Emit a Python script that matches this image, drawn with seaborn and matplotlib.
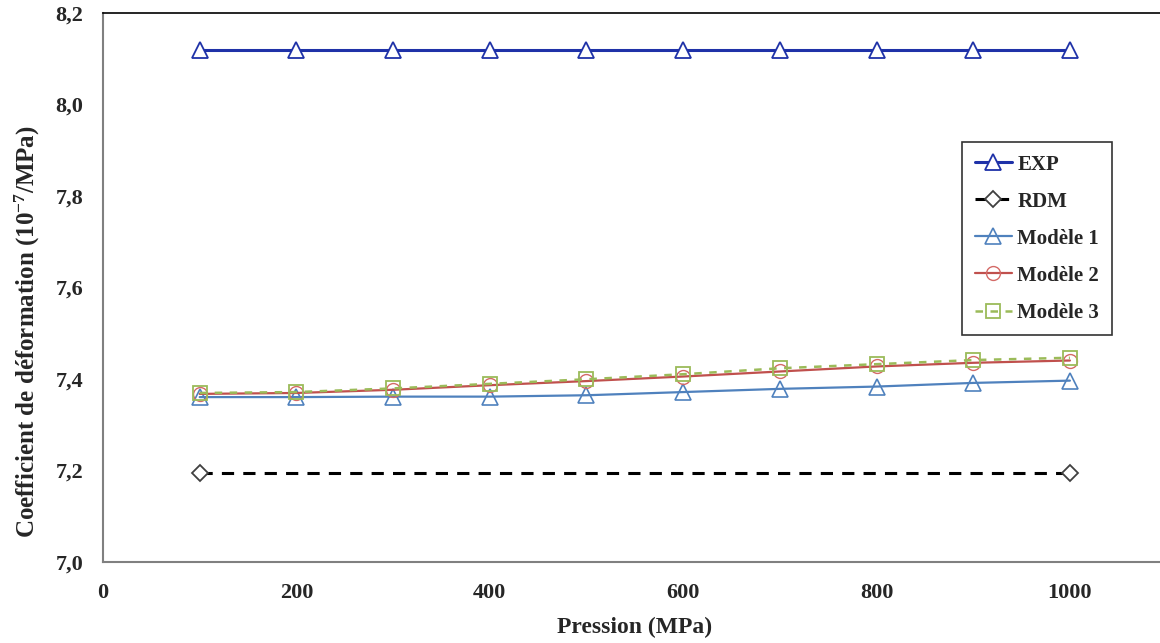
import numpy as np
import pandas as pd
import matplotlib
matplotlib.use('Agg')
import matplotlib.pyplot as plt
import seaborn as sns

# Data
pression = [100, 200, 300, 400, 500, 600, 700, 800, 900, 1000]
exp_vals = [8.12] * 10
rdm_x = [100, 1000]
rdm_vals = [7.193, 7.193]
modele1 = [7.360, 7.360, 7.361, 7.361, 7.364, 7.371, 7.378, 7.383, 7.391, 7.396]
modele2 = [7.367, 7.369, 7.376, 7.386, 7.395, 7.405, 7.416, 7.427, 7.435, 7.440]
modele3 = [7.369, 7.371, 7.379, 7.389, 7.399, 7.410, 7.423, 7.432, 7.441, 7.446]

x_ticks = [0, 200, 400, 600, 800, 1000]
y_ticks = [7.0, 7.2, 7.4, 7.6, 7.8, 8.0, 8.2]

sns.set_theme(style="white")
plt.rcParams['font.family'] = ['Liberation Serif', 'DejaVu Serif']
plt.rcParams['font.weight'] = 'bold'
plt.rcParams['mathtext.fontset'] = 'custom'
plt.rcParams['mathtext.rm'] = 'Liberation Serif:bold'
plt.rcParams['mathtext.bf'] = 'Liberation Serif:bold'
plt.rcParams['mathtext.default'] = 'bf'

fig = plt.figure(figsize=(11.6, 6.43), dpi=100)
ax = fig.add_axes([103 / 1160, 1 - 561.7 / 643, (1166.6 - 103) / 1160, (561.7 - 13) / 643])

# EXP
sns.lineplot(x=pression, y=exp_vals, ax=ax, color='#1f32a8', linewidth=2.2,
             marker='^', markersize=11, markerfacecolor='white',
             markeredgecolor='#1f32a8', markeredgewidth=1.3, label='EXP')
# RDM
sns.lineplot(x=rdm_x, y=rdm_vals, ax=ax, color='black', linewidth=2.2,
             linestyle=(0, (4, 3)), marker='D', markersize=8, markerfacecolor='white',
             markeredgecolor='#404040', markeredgewidth=1.3, label='RDM')
# Modèle 1
sns.lineplot(x=pression, y=modele1, ax=ax, color='#4f81bd', linewidth=1.6,
             marker='^', markersize=11, markerfacecolor='none',
             markeredgecolor='#4f81bd', markeredgewidth=1.2, label='Modèle 1')
# Modèle 2
sns.lineplot(x=pression, y=modele2, ax=ax, color='#c0504d', linewidth=1.6,
             marker='o', markersize=10, markerfacecolor='none',
             markeredgecolor='#d46a67', markeredgewidth=1.0, label='Modèle 2')
# Modèle 3
sns.lineplot(x=pression, y=modele3, ax=ax, color='#9bbb59', linewidth=1.8,
             linestyle=(0, (3, 3)), marker='s', markersize=10, markerfacecolor='none',
             markeredgecolor='#9bbb59', markeredgewidth=1.3, label='Modèle 3')

ax.set_xlim(0, 1100)
ax.set_ylim(7.0, 8.2)
ax.set_xticks(x_ticks)
ax.set_yticks(y_ticks)
ax.set_yticklabels([f"{v:.1f}".replace('.', ',') for v in y_ticks])
ax.tick_params(axis='both', direction='out', length=5, width=1, color='#a0a0a0',
               labelsize=16)
ax.tick_params(axis='y', pad=9)
ax.tick_params(axis='x', pad=10)
for lab in ax.get_xticklabels() + ax.get_yticklabels():
    lab.set_fontweight('bold')

for side in ['left', 'bottom']:
    ax.spines[side].set_color('#808080')
    ax.spines[side].set_linewidth(1.5)
for side in ['top', 'right']:
    ax.spines[side].set_color('black')
    ax.spines[side].set_linewidth(1.2)

ax.set_xlabel('Pression (MPa)', fontsize=17, fontweight='bold', labelpad=10)
ax.set_ylabel('Coefficient de déformation (10$^{-7}$/MPa)', fontsize=18,
              fontweight='bold')
ax.yaxis.set_label_coords(-0.057, 0.42)

leg = ax.legend(loc='upper left', bbox_to_anchor=(962 / 1160, 1 - 142 / 643),
                bbox_transform=fig.transFigure, frameon=True, fancybox=False,
                edgecolor='black', prop={'weight': 'bold', 'size': 15},
                handlelength=1.8, handletextpad=0.25, labelspacing=0.82,
                borderpad=0.6, borderaxespad=0)
leg.get_frame().set_linewidth(1.2)

fig.savefig('out.png', dpi=100, facecolor='white')
